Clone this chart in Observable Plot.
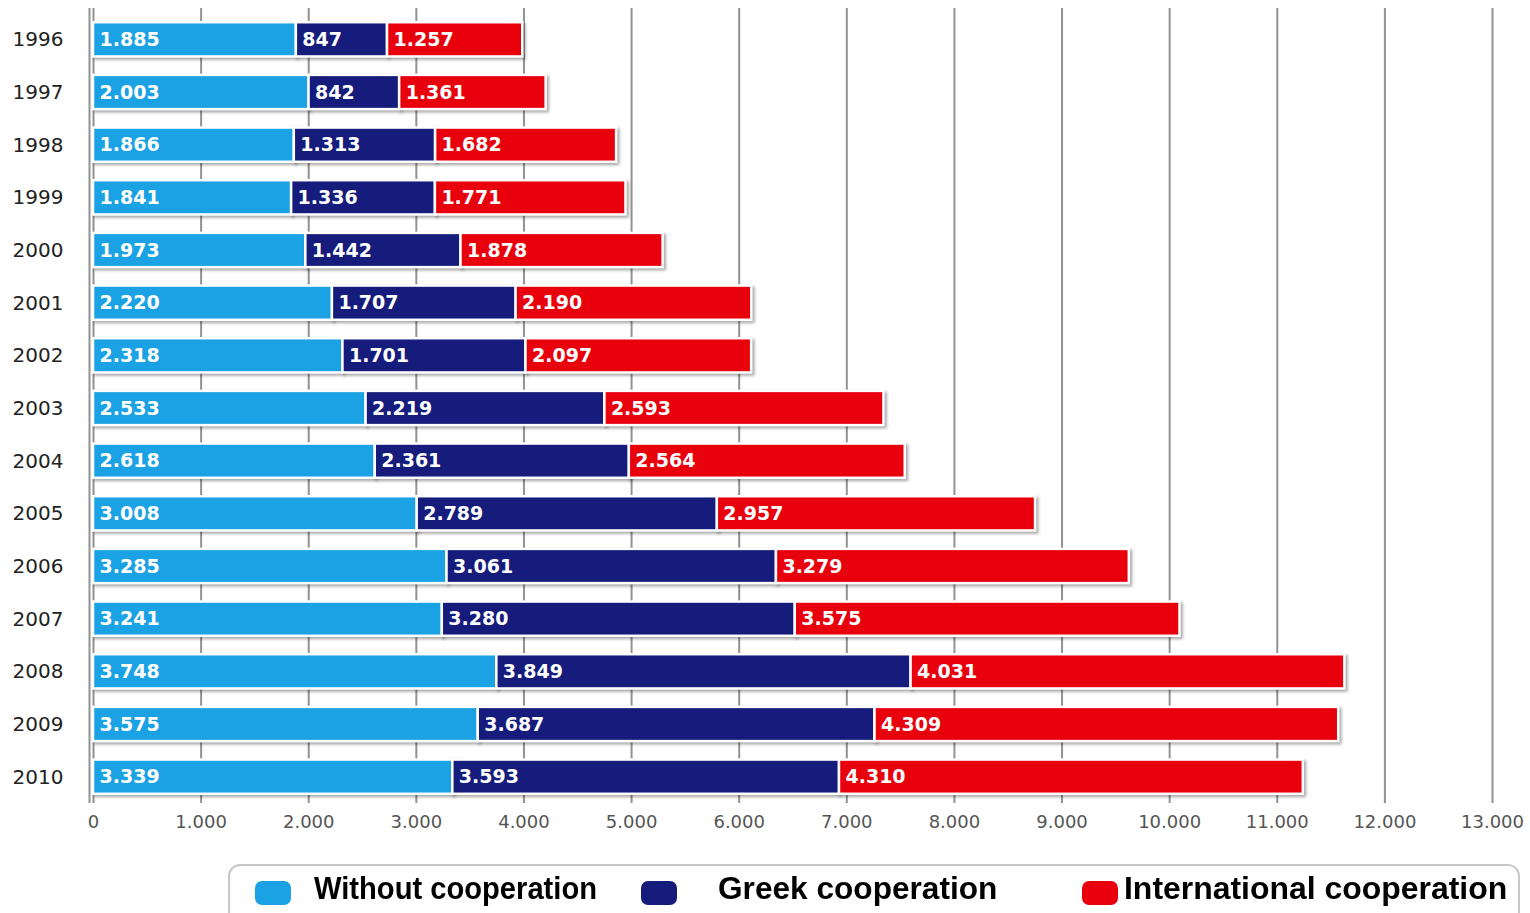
<!DOCTYPE html>
<html>
<head>
<meta charset="utf-8">
<script src="https://cdn.jsdelivr.net/npm/d3@7"></script>
<script src="https://cdn.jsdelivr.net/npm/@observablehq/plot@0.6"></script>
<style>
  html, body { margin: 0; padding: 0; background: #fff; width: 1530px; height: 913px; overflow: hidden; }
  #wrap { position: relative; width: 1530px; height: 913px; }
  #legend { position: absolute; left: 228px; top: 864px; width: 1292px; height: 70px; border: 2px solid #c8c8c8; border-radius: 12px; box-sizing: border-box; background: #fff; }
  .sw { position: absolute; top: 15px; width: 36px; height: 24px; border-radius: 7px; }
  .lt { position: absolute; top: 5px; font-family: "Liberation Sans", Arial, sans-serif; font-weight: bold; font-size: 31px; color: #000; white-space: nowrap; transform-origin: left center; }
</style>
</head>
<body>
<div id="wrap"><div id="chart"></div><div id="legend"></div></div>
<script>
const years = ["1996","1997","1998","1999","2000","2001","2002","2003","2004","2005","2006","2007","2008","2009","2010"];
const seriesNames = ["Without cooperation","Greek cooperation","International cooperation"];
const withoutCoop = [1885,2003,1866,1841,1973,2220,2318,2533,2618,3008,3285,3241,3748,3575,3339];
const greekCoop = [847,842,1313,1336,1442,1707,1701,2219,2361,2789,3061,3280,3849,3687,3593];
const intlCoop = [1257,1361,1682,1771,1878,2190,2097,2593,2564,2957,3279,3575,4031,4309,4310];
const xTicks = [0,1000,2000,3000,4000,5000,6000,7000,8000,9000,10000,11000,12000,13000];
const seriesColors = ["#1aa2e4","#161c7c","#e8000d"];

const locale = d3.formatLocale({decimal: ",", thousands: ".", grouping: [3], currency: ["", "€"]});
const fmt = locale.format(",d");

const seriesValues = [withoutCoop, greekCoop, intlCoop];
const data = [];
years.forEach((y, i) => seriesNames.forEach((s, j) => data.push({year: y, series: s, value: seriesValues[j][i]})));

const chart = Plot.plot({
  width: 1530,
  height: 843,
  marginLeft: 93,
  marginRight: 38,
  marginTop: 13,
  marginBottom: 40,
  style: {fontFamily: '"DejaVu Sans", sans-serif', background: "#fff"},
  x: {domain: [0, 13000], ticks: xTicks, tickFormat: fmt, tickSize: 0, tickPadding: 12, label: null},
  y: {domain: years, paddingInner: 0.35, paddingOuter: 0.175, round: false, tickSize: 0, tickPadding: 30, label: null},
  color: {domain: seriesNames, range: seriesColors},
  marks: [
    Plot.ruleX(xTicks, {stroke: "#929292", strokeWidth: 2, insetTop: -5}),
    Plot.ruleX([0], {stroke: "#929292", strokeWidth: 2, dx: -4, insetTop: -5}),
    Plot.barX(data, Plot.stackX({x: "value", y: "year", z: "series", order: seriesNames, fill: "series", stroke: "#fff", strokeWidth: 2.5})),
    Plot.text(data, Plot.stackX1({x: "value", y: "year", z: "series", order: seriesNames, text: d => fmt(d.value), textAnchor: "start", dx: 6, fill: "#fff", fontSize: 19, fontWeight: "bold"})),
    Plot.axisX({ticks: xTicks, tickFormat: fmt, tickSize: 0, tickPadding: 12, fontSize: 18, fill: "#555", label: null}),
    Plot.axisY({tickSize: 0, tickPadding: 30, fontSize: 20, fill: "#222", label: null})
  ]
});
document.getElementById("chart").appendChild(chart);
d3.select(chart).selectAll("g[aria-label='bar'] rect").style("filter", "drop-shadow(2px 2px 1.5px rgba(0,0,0,0.35))");

const legend = document.getElementById("legend");
const swX = [25, 411, 852];
const txX = [84, 488, 894];
const txScale = [0.94, 1.02, 1.03];
seriesNames.forEach((s, i) => {
  const sw = document.createElement("div");
  sw.className = "sw"; sw.style.left = swX[i] + "px"; sw.style.background = seriesColors[i];
  legend.appendChild(sw);
  const t = document.createElement("div");
  t.className = "lt"; t.style.left = txX[i] + "px"; t.style.transform = `scaleX(${txScale[i]})`; t.textContent = s;
  legend.appendChild(t);
});
</script>
</body>
</html>
